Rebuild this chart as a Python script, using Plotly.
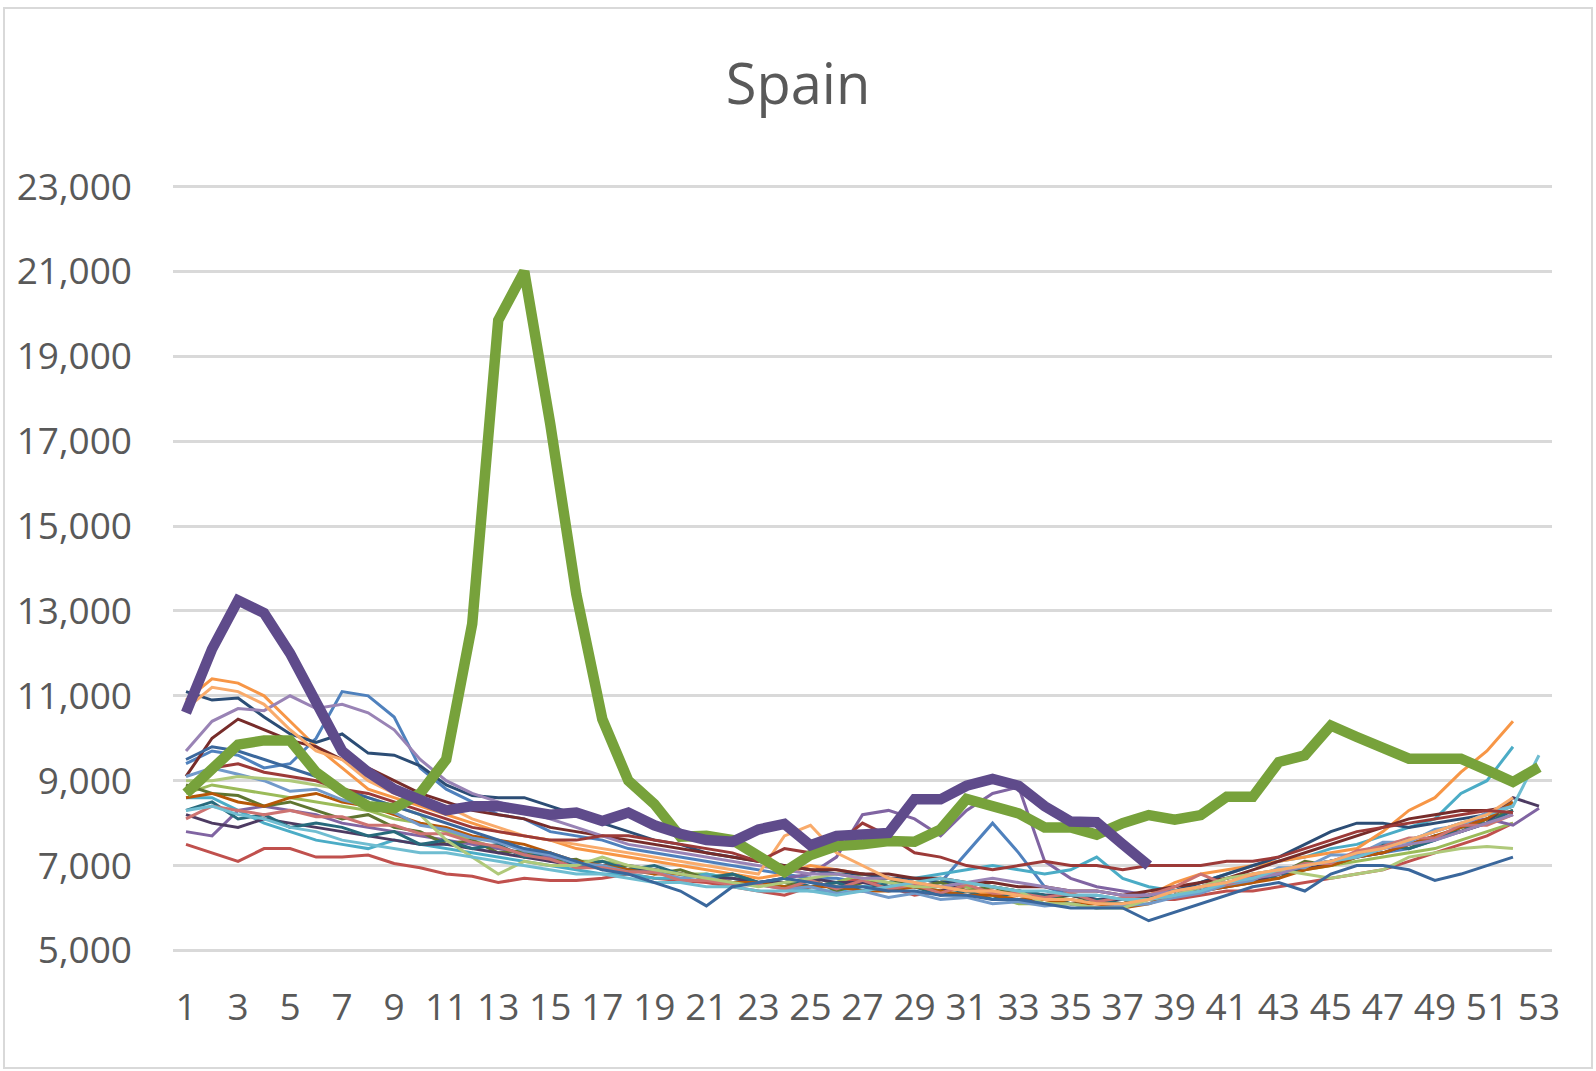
import plotly.graph_objects as go

weeks = list(range(1, 54))
x_tick_labels = [str(w) for w in range(1, 54, 2)]
y_ticks = list(range(5000, 23001, 2000))

y2000 = [9400, 9700, 9600, 9300, 9400, 10000, 11100, 11000, 10500, 9300,
         8800, 8500, 8200, 8100, 7800, 7700, 7600, 7400, 7300, 7200,
         7100, 7000, 6900, 6800, 6700, 6700, 6600, 6600, 6500, 6600,
         7300, 8000, 7300, 6500, 6300, 6300, 6200, 6300, 6400, 6500,
         6600, 6700, 6800, 7000, 7100, 7200, 7300, 7400, 7600, 7800,
         8000, 8200]
y2001 = [7500, 7300, 7100, 7400, 7400, 7200, 7200, 7250, 7050, 6950,
         6800, 6750, 6600, 6700, 6650, 6650, 6700, 6800, 6700, 6650,
         6600, 6500, 6400, 6300, 6500, 6600, 6700, 6500, 6300, 6400,
         6500, 6400, 6300, 6200, 6200, 6100, 6100, 6200, 6200, 6300,
         6400, 6400, 6500, 6600, 6700, 6800, 6900, 7100, 7300, 7500,
         7700, 8000]
y2002 = [8700, 8900, 8800, 8700, 8600, 8500, 8400, 8300, 8100, 8000,
         7800, 7600, 7400, 7300, 7200, 7100, 7100, 7000, 6900, 6800,
         6800, 6700, 6600, 6600, 6500, 6600, 6800, 6700, 6600, 6700,
         6500, 6300, 6100, 6100, 6100, 6000, 6100, 6200, 6300, 6500,
         6600, 6700, 6800, 6900, 7000, 7100, 7200, 7300, 7400, 7600,
         7800, 8000]
y2003 = [7800, 7700, 8300, 8400, 8300, 8200, 8000, 7900, 7800, 7700,
         7600, 7500, 7400, 7300, 7200, 7100, 7000, 7000, 6900, 6800,
         6700, 6600, 6600, 6700, 6800, 7200, 8200, 8300, 8100, 7700,
         8300, 8700, 8850, 7100, 6700, 6500, 6400, 6300, 6400, 6500,
         6700, 6800, 6900, 7000, 7100, 7300, 7500, 7600, 7800, 8000,
         8100, 7950, 8350]
y2004 = [8600, 8600, 8300, 8000, 7800, 7600, 7500, 7400, 7600, 7500,
         7400, 7300, 7200, 7100, 7000, 6900, 6800, 6800, 6700, 6700,
         6800, 6700, 6600, 6500, 6400, 6400, 6500, 6600, 6700, 6800,
         6900, 7000, 6900, 6800, 6900, 7200, 6700, 6500, 6400, 6600,
         6800, 7000, 7100, 7200, 7400, 7500, 7700, 7900, 8100, 8700,
         9000, 9800]
y2005 = [10900, 11400, 11300, 11000, 10400, 9800, 9300, 8800, 8600, 8400,
         8200, 8000, 7800, 7700, 7600, 7400, 7300, 7200, 7100, 7000,
         6900, 6800, 6700, 6800, 7000, 6900, 6800, 6700, 6600, 6500,
         6400, 6300, 6300, 6200, 6100, 6100, 6100, 6300, 6600, 6800,
         6900, 7000, 7100, 7200, 7300, 7400, 7800, 8300, 8600, 9200,
         9700, 10400]
y2006 = [11100, 10900, 10950, 10500, 10100, 9900, 10100, 9650, 9600, 9350,
         8900, 8650, 8600, 8600, 8400, 8200, 8000, 7800, 7600, 7500,
         7300, 7200, 7100, 7000, 6900, 6800, 6800, 6700, 6700, 6600,
         6600, 6500, 6400, 6300, 6300, 6200, 6200, 6300, 6400, 6600,
         6800, 7000, 7200, 7500, 7800, 8000, 8000, 7900, 8000, 8100,
         8200, 8400]
y2007 = [9100, 10000, 10450, 10200, 9950, 9800, 9500, 9300, 9000, 8700,
         8500, 8300, 8200, 8100, 7900, 7800, 7700, 7600, 7500, 7400,
         7300, 7200, 7100, 7000, 6900, 6900, 6800, 6800, 6700, 6700,
         6600, 6600, 6500, 6500, 6400, 6400, 6300, 6400, 6500, 6600,
         6700, 6900, 7100, 7300, 7500, 7700, 7900, 8100, 8200, 8300,
         8300, 8400]
y2008 = [8900, 8700, 8650, 8400, 8500, 8300, 8100, 8200, 7900, 7800,
         7500, 7600, 7300, 7350, 7100, 7150, 6900, 7000, 6800, 6900,
         6700, 6800, 6600, 6500, 6700, 6400, 6600, 6700, 6500, 6600,
         6400, 6500, 6300, 6200, 6300, 6150, 6100, 6250, 6300, 6400,
         6600, 6700, 6800, 7100, 7000, 7200, 7500, 7400, 7700, 7800,
         8100, 8300]
y2009 = [8200, 8000, 7900, 8100, 8000, 7900, 7800, 7700, 7600, 7500,
         7500, 7400, 7300, 7200, 7100, 7000, 7000, 6900, 6900, 6800,
         6700, 6700, 6600, 6600, 6700, 6600, 6600, 6500, 6500, 6400,
         6600, 6500, 6400, 6300, 6300, 6200, 6200, 6300, 6300, 6400,
         6500, 6600, 6800, 6900, 7100, 7200, 7300, 7500, 7700, 7800,
         8000, 8600, 8400]
y2010 = [8300, 8500, 8100, 8200, 7900, 8000, 7900, 7700, 7800, 7500,
         7600, 7400, 7500, 7200, 7300, 7000, 7100, 6900, 7000, 6800,
         6700, 6800, 6600, 6700, 6500, 6600, 6400, 6600, 6500, 6300,
         6400, 6200, 6400, 6300, 6100, 6200, 6100, 6250, 6300, 6500,
         6500, 6800, 6700, 7000, 7100, 7200, 7500, 7400, 7600, 7900,
         8000, 8300]
y2011 = [8600, 8700, 8500, 8400, 8600, 8700, 8500, 8400, 8200, 8000,
         7900, 7700, 7600, 7500, 7300, 7100, 7000, 6900, 6800, 6800,
         6700, 6600, 6600, 6500, 6500, 6500, 6400, 6400, 6500, 6400,
         6300, 6300, 6200, 6200, 6100, 6100, 6000, 6100, 6300, 6400,
         6500, 6600, 6700, 6900, 7000, 7200, 7300, 7500, 7700, 7900,
         8100, 8500]
y2012 = [9100, 9300, 9150, 9000, 8750, 8800, 8550, 8400, 8250, 7950,
         7850, 7650, 7550, 7350, 7250, 7050, 7000, 6850, 6850, 6700,
         6750, 6550, 6550, 6450, 6500, 6350, 6400, 6250, 6350, 6200,
         6250, 6100, 6150, 6050, 6100, 6000, 6050, 6100, 6250, 6350,
         6550, 6650, 6950, 6950, 7250, 7250, 7550, 7550, 7850, 7950,
         8250, 8400]
y2013 = [8100, 8400, 8300, 8200, 8300, 8150, 8150, 7950, 7950, 7750,
         7750, 7550, 7450, 7250, 7150, 6950, 6950, 6850, 6850, 6650,
         6650, 6550, 6550, 6450, 6650, 6450, 6650, 6450, 6550, 6350,
         6550, 6350, 6350, 6250, 6350, 6150, 6250, 6300, 6500, 6800,
         6550, 6750, 6850, 7050, 7050, 7350, 7450, 7650, 7650, 7950,
         7950, 8200]
y2014 = [9000, 9000, 9100, 9050, 9000, 8900, 8800, 8600, 8400, 8200,
         7600, 7200, 6800, 7100, 7000, 7000, 7200, 7000, 6900, 6800,
         6700, 6600, 6500, 6600, 6700, 6800, 6700, 6600, 6500, 6500,
         6600, 6500, 6400, 6100, 6100, 6000, 6000, 6200, 6300, 6500,
         6700, 6800, 6900, 6800, 6700, 6800, 6900, 7200, 7300, 7400,
         7450, 7400]
y2015 = [9700, 10400, 10700, 10650, 11000, 10700, 10800, 10600, 10200, 9500,
         9000, 8700, 8500, 8300, 8100, 7900, 7700, 7500, 7400, 7300,
         7200, 7100, 7000, 6900, 6800, 6800, 6700, 6700, 6600, 6500,
         6600, 6700, 6600, 6500, 6400, 6400, 6300, 6300, 6400, 6500,
         6600, 6700, 6800, 7000, 7100, 7200, 7400, 7500, 7600, 7800,
         8000, 8200]
y2016 = [8300, 8400, 8200, 8100, 7900, 7800, 7600, 7500, 7400, 7300,
         7300, 7200, 7100, 7000, 6900, 6800, 6800, 6700, 6600, 6600,
         6500, 6500, 6400, 6400, 6400, 6300, 6400, 6500, 6600, 6700,
         6600, 6500, 6400, 6400, 6300, 6300, 6200, 6200, 6300, 6400,
         6600, 6700, 6900, 7000, 7100, 7200, 7400, 7600, 7800, 8000,
         8200, 8400, 9600]
y2017 = [10700, 11200, 11100, 10800, 10200, 9700, 9500, 9000, 8700, 8500,
         8400, 8100, 7900, 7700, 7600, 7500, 7400, 7300, 7200, 7100,
         7000, 6900, 6800, 7700, 7950, 7300, 7000, 6700, 6600, 6500,
         6400, 6400, 6300, 6200, 6200, 6100, 6100, 6200, 6400, 6500,
         6600, 6800, 6900, 7000, 7100, 7300, 7400, 7600, 7800, 8000,
         8200, 8600]
y2018 = [9500, 9800, 9700, 9500, 9300, 9100, 8800, 8600, 8400, 8200,
         8000, 7800, 7600, 7400, 7300, 7100, 6900, 6800, 6600, 6400,
         6050, 6500, 6600, 6700, 6600, 6500, 6500, 6400, 6400, 6300,
         6300, 6200, 6200, 6100, 6000, 6000, 6000, 5700, 5900, 6100,
         6300, 6500, 6600, 6400, 6800, 7000, 7000, 6900, 6650, 6800,
         7000, 7200]
y2019 = [8800, 9300, 9400, 9200, 9100, 9000, 8800, 8700, 8500, 8300,
         8100, 7900, 7800, 7700, 7600, 7600, 7700, 7700, 7600, 7500,
         7400, 7300, 7100, 7400, 7300, 7500, 8000, 7700, 7300, 7200,
         7000, 6900, 7000, 7100, 7000, 7000, 6900, 7000, 7000, 7000,
         7100, 7100, 7200, 7400, 7600, 7800, 7900, 8000, 8100, 8200,
         8300, 8250]
y2020 = [8700, 9250, 9850, 9950, 9950, 9200, 8750, 8400, 8350, 8700,
         9500, 12700, 19850, 21000, 17400, 13400, 10450, 9000, 8450, 7680,
         7700, 7600, 7200, 6850, 7250, 7460, 7500, 7580, 7560, 7850,
         8570, 8420, 8230, 7900, 7900, 7730, 8000, 8190, 8080, 8190,
         8620, 8620, 9440, 9600, 10300, 10030, 9750, 9520, 9520, 9520,
         9250, 8970, 9320]
y2021 = [10600, 12100, 13250, 12950, 12000, 10900, 9700, 9200, 8800, 8550,
         8300, 8400, 8400, 8300, 8200, 8250, 8050, 8250, 7950, 7750,
         7600, 7560, 7850, 7980, 7480, 7700, 7760, 7770, 8560, 8560,
         8880, 9040, 8880, 8400, 8040, 8020, 7500, 7000]

thin_series = [
    ("2000", y2000, "#4F81BD"), ("2001", y2001, "#C0504D"),
    ("2002", y2002, "#9BBB59"), ("2003", y2003, "#8064A2"),
    ("2004", y2004, "#4BACC6"), ("2005", y2005, "#F79646"),
    ("2006", y2006, "#2C4D75"), ("2007", y2007, "#772C2A"),
    ("2008", y2008, "#5F7530"), ("2009", y2009, "#4D3B62"),
    ("2010", y2010, "#276A7C"), ("2011", y2011, "#B65708"),
    ("2012", y2012, "#729ACA"), ("2013", y2013, "#CD7371"),
    ("2014", y2014, "#AFC97A"), ("2015", y2015, "#9983B5"),
    ("2016", y2016, "#6FBDD1"), ("2017", y2017, "#F9AB6B"),
    ("2018", y2018, "#3A679C"), ("2019", y2019, "#9C3A38"),
]
thick_series = [("2020", y2020, "#77A23B"), ("2021", y2021, "#5F4B8B")]

fig = go.Figure()
for name, vals, col in thin_series:
    fig.add_trace(go.Scatter(x=weeks[:len(vals)], y=vals, name=name, mode="lines",
                             line=dict(color=col, width=3)))
for name, vals, col in thick_series:
    fig.add_trace(go.Scatter(x=weeks[:len(vals)], y=vals, name=name, mode="lines",
                             line=dict(color=col, width=10.5)))

W, H = 1596, 1071
ML, MR, MT, MB = 173, 44, 184, 118
pw, ph = W - ML - MR, H - MT - MB

def px_x(p):
    return (p - ML) / pw

def px_y(p):
    return (H - MB - p) / ph

fig.add_shape(type="rect", xref="paper", yref="paper",
              x0=px_x(4), x1=px_x(1592), y0=px_y(1068), y1=px_y(8),
              line=dict(color="#D9D9D9", width=2), fillcolor="rgba(0,0,0,0)",
              layer="below")

font_fam = "Open Sans, sans-serif"
fig.update_layout(
    width=W, height=H,
    margin=dict(l=ML, r=MR, t=MT, b=MB),
    paper_bgcolor="white", plot_bgcolor="white",
    showlegend=False,
    title=dict(text="Spain", x=0.5, xanchor="center", xref="container",
               y=1 - 84 / H, yanchor="middle", yref="container",
               font=dict(family=font_fam, size=56, color="#595959")),
    xaxis=dict(range=[0.5, 53.5], tickmode="array",
               tickvals=list(range(1, 54, 2)), ticktext=x_tick_labels,
               showgrid=False, zeroline=False, showline=False, ticks="",
               ticklabelstandoff=29,
               tickfont=dict(family=font_fam, size=37, color="#595959")),
    yaxis=dict(range=[4940, 23060], tickmode="array", tickvals=y_ticks,
               tickformat=",d", showgrid=True, gridcolor="#D9D9D9", gridwidth=3,
               zeroline=False, showline=False, ticks="",
               ticklabelstandoff=40,
               tickfont=dict(family=font_fam, size=37, color="#595959")),
)

fig.write_html("out.html", config={"displayModeBar": False},
               post_script="document.body.style.margin='0';document.body.style.overflow='hidden';")
